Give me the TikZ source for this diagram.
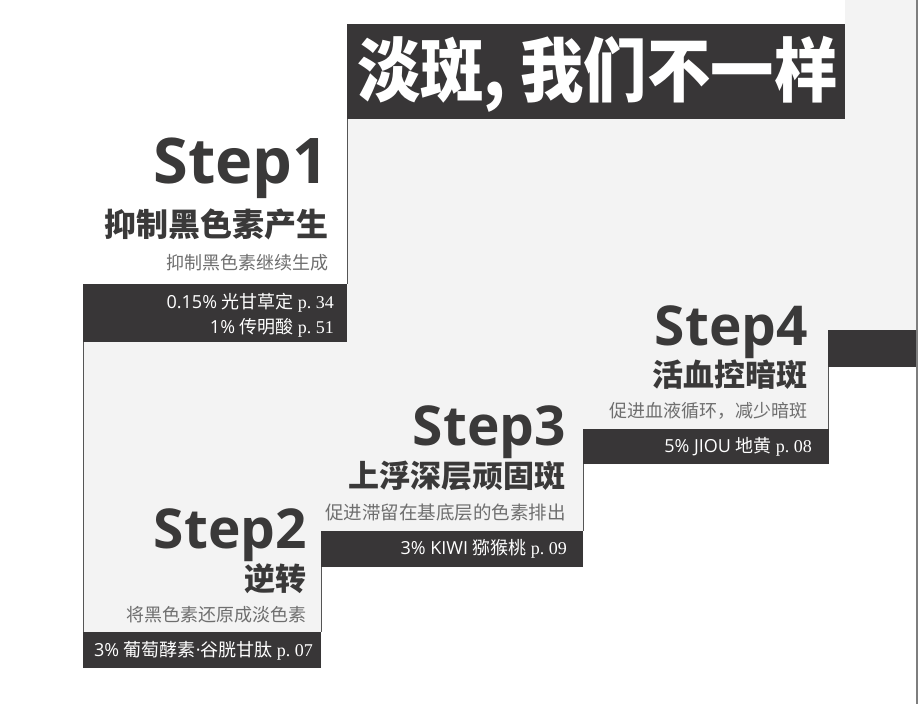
\documentclass[tikz,border=0pt]{standalone}
\usepackage{fontspec}
\setmainfont{Open Sans}
\newfontfamily\cjk{Noto Sans CJK SC}
\newfontfamily\stepf{Open Sans}
\newfontfamily\serf{Liberation Serif}
\definecolor{barc}{HTML}{383637}
\definecolor{lightc}{HTML}{F3F3F3}
\definecolor{headc}{HTML}{3A3939}
\definecolor{subc}{HTML}{6E6E6E}
\definecolor{edgec}{HTML}{555555}
\definecolor{rimc}{HTML}{7E7E7E}
\newcommand{\pgref}[1]{{\serf p.\ #1}}
\newcommand{\lat}[1]{{\stepf #1}}
\tikzset{
  txt/.style={inner sep=0pt, anchor=base east},
  steptitle/.style={txt, text=headc, font=\stepf\bfseries\fontsize{55}{55}\selectfont},
  stephead/.style={txt, text=headc, font=\cjk\bfseries\fontsize{31}{31}\selectfont},
  stepsub/.style={txt, text=subc, font=\cjk\fontsize{18}{18}\selectfont},
  bartext/.style={txt, text=white, font=\cjk\fontsize{18}{18}\selectfont},
  edgeline/.style={draw=edgec, line width=1pt},
}
\begin{document}
\begin{tikzpicture}[x=1pt,y=-1pt]
\useasboundingbox (0,0) rectangle (919,704);
\fill[white] (0,0) rectangle (919,704);
% light staircase region
\fill[lightc] (347,119) -- (845,119) -- (845,0) -- (916,0) -- (916,367) -- (828,367)
  -- (828,464) -- (583,464) -- (583,567) -- (321,567) -- (321,668) -- (83,668)
  -- (83,284) -- (347,284) -- cycle;
% thin edges
\draw[edgeline] (347,119) -- (347,284);
\draw[edgeline] (83,342) -- (83,668);
\draw[edgeline] (321,567) -- (321,632);
\draw[edgeline] (583,464) -- (583,531);
\draw[edgeline] (828,367) -- (828,429);
\draw[draw=rimc, line width=2pt] (916.5,0) -- (916.5,704);
% dark bars
\fill[barc] (347,24) rectangle (845,119);
\fill[barc] (83,284) rectangle (347,342);
\fill[barc] (828,330) rectangle (916,367);
\fill[barc] (583,429) rectangle (829,464);
\fill[barc] (321,531) rectangle (583,567);
\fill[barc] (83,632) rectangle (321,668);
% title
\node[inner sep=0pt, anchor=base west, xscale=0.905, text=white, font=\cjk\bfseries\fontsize{70}{70}\selectfont] (title) at (357,96.5) {淡斑, 我们不一样};
% Step 1
\node[steptitle, font=\stepf\bfseries\fontsize{63}{63}\selectfont] (s1) at (329,183) {Step1};
\node[stephead, font=\cjk\bfseries\fontsize{32}{32}\selectfont] (h1) at (329,236.5) {抑制黑色素产生};
\node[stepsub] (d1) at (329,269.5) {抑制黑色素继续生成};
\node[bartext] (b1a) at (334,308.5) {\lat{0.15\% }光甘草定 \pgref{34}};
\node[bartext] (b1b) at (334,333.5) {\lat{1\% }传明酸 \pgref{51}};
% Step 4
\node[steptitle] (s4) at (808,345) {Step4};
\node[stephead] (h4) at (808,386) {活血控暗斑};
\node[stepsub] (d4) at (808,417.5) {促进血液循环，减少暗斑};
\node[bartext] (b4) at (812,452.5) {\lat{5\% JIOU }地黄 \pgref{08}};
% Step 3
\node[steptitle] (s3) at (566,445) {Step3};
\node[stephead] (h3) at (566,487) {上浮深层顽固斑};
\node[stepsub, font=\cjk\fontsize{18.5}{18.5}\selectfont] (d3) at (566,519.5) {促进滞留在基底层的色素排出};
\node[bartext] (b3) at (567,554.5) {\lat{3\% KIWI }猕猴桃 \pgref{09}};
% Step 2
\node[steptitle] (s2) at (307,548) {Step2};
\node[stephead] (h2) at (307,590) {逆转};
\node[stepsub] (d2) at (307,621.5) {将黑色素还原成淡色素};
\node[bartext] (b2) at (313,656.5) {\lat{3\% }葡萄酵素\lat{·}谷胱甘肽 \pgref{07}};
\end{tikzpicture}
\end{document}
